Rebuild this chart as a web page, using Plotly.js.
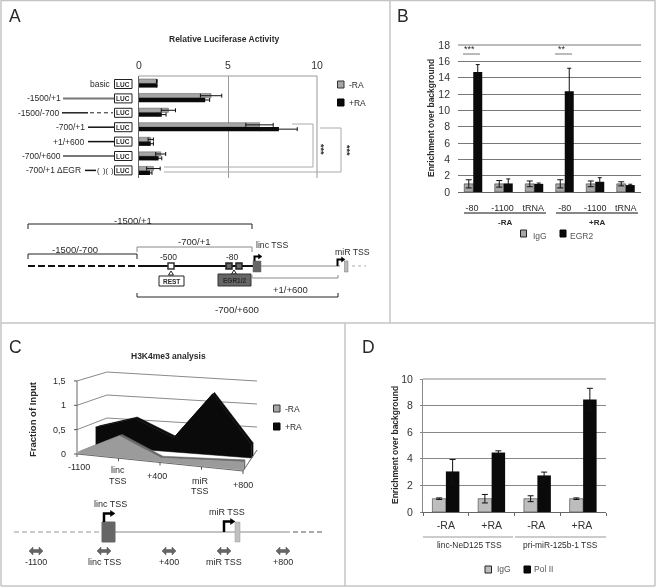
<!DOCTYPE html>
<html><head><meta charset="utf-8">
<script src="https://cdn.plot.ly/plotly-3.0.1.min.js"></script>
<style>html,body{margin:0;padding:0;background:#fff}#c{width:656px;height:587px}.main-svg{will-change:transform}</style></head>
<body><div id="c"></div>
<script>
// ---------- Panel A data
var catsA = ['basic','-1500/+1','-1500/-700','-700/+1','+1/+600','-700/+600','-700/+1 ΔEGR'];
var aMinus = [1.0,4.05,1.65,6.77,0.66,1.22,0.81];
var aMinusErr = [0.02,0.6,0.4,0.77,0.15,0.28,0.38];
var aPlus = [1.0,3.72,1.28,7.86,0.66,1.1,0.62];
var aPlusErr = [0.02,0.25,0.24,1.03,0.15,0.18,0.11];
// ---------- Panel B data
var catsB = ['-80 ','-1100 ','tRNA ','-80','-1100','tRNA'];
var bIgG = [1,1,1,1,1,1];
var bIgGErr = [0.5,0.4,0.35,0.5,0.35,0.25];
var bEGR = [14.7,1.05,1.0,12.35,1.25,0.85];
var bEGRErr = [0.9,0.55,0.1,2.8,0.5,0.1];
// ---------- Panel C data
var catsC = ['-1100','linc TSS','+400','miR TSS','+800'];
var cMinus = [0.03,0.45,0.08,0.13,0.17];
var cPlus = [0.4,0.65,0.3,1.3,0.28];
var cLevels = [0,0.5,1,1.5];
var cLevelLabels = ['0','0,5','1','1,5'];
// ---------- Panel D data
var catsD = ['-RA','+RA','-RA ','+RA '];
var dIgG = [1,1,1,1];
var dIgGErr = [0.06,0.32,0.22,0.06];
var dPol = [3.05,4.47,2.75,8.45];
var dPolErr = [0.9,0.13,0.25,0.85];

var W=656,H=587,FONT='"Liberation Sans",Arial,sans-serif',INK='#2a2a2a';
var GRAY='#a6a6a6',BLK='#0a0a0a',EDGE='#222';
function dx(a,b){return [a/W,b/W];}
function dy(top,bot){return [1-bot/H,1-top/H];}

var annos=[],shapes=[];
function T(x,y,t,s,o){o=o||{};annos.push({xref:'x5',yref:'y5',x:x,y:y,text:o.b?'<b>'+t+'</b>':t,showarrow:false,
  xanchor:o.a||'center',yanchor:'middle',textangle:o.r||0,
  font:{family:FONT,size:s,color:o.c||INK}});}
function L(x0,y0,x1,y1,c,w,d){shapes.push({type:'line',xref:'x5',yref:'y5',x0:x0,y0:y0,x1:x1,y1:y1,line:{color:c||'#111',width:w||1,dash:d||'solid'}});}
function R(x0,y0,x1,y1,f,c,w){shapes.push({type:'rect',xref:'x5',yref:'y5',x0:x0,y0:y0,x1:x1,y1:y1,fillcolor:f,line:{color:c||'#111',width:w===undefined?1:w}});}
function Pth(p,f,c,w){shapes.push({type:'path',xref:'x5',yref:'y5',path:p,fillcolor:f||'rgba(0,0,0,0)',line:{color:c||'#111',width:w===undefined?1:w}});}

// panel frames
var FR='#c4c4c4';
L(1,0.5,655,0.5,FR,1.5);L(1,0,1,586,FR,1.5);L(390,0,390,323,FR,1.5);L(1,323,655,323,FR,1.5);
L(345,323,345,586,FR,1.5);L(1,586,655,586,FR,1.5);L(655,0,655,586,FR,1.5);
T(15,16,'A',17.5);T(403,16,'B',17.5);T(15,347,'C',17.5);T(368,347,'D',17.5);

// --- Panel A furniture
T(224,39,'Relative Luciferase Activity',8.5,{b:1});
L(139,76,317,76,'#999');L(317,76,317,178,'#999');
var aEnds=[113,63,61,87,86,63,83];
catsA.forEach(function(c,i){var y=84+14.4*i;T(aEnds[i],y,c,8.5,{a:'right'});R(114.5,y-4.5,132,y+4.5,'#fff','#222',1);T(123.3,y,'LUC',6.5,{b:1});});
L(63,98.4,114,98.4,'#777',2);L(62,112.8,88,112.8,'#222',1.5);L(90,112.8,113,112.8,'#222',1,'4px,3px');
L(88,127.2,114,127.2,'#111',1.5);L(88,141.6,114,141.6,'#111',1.5);L(63,156,114,156,'#777',2);L(85,170.4,96,170.4,'#111',1.5);
T(98,170,'(',7.5);T(105,170,')(',7.5);T(112,170,')',7.5);
R(337.5,81,344,88,GRAY,'#333');T(347,85,'-RA',8.5,{a:'left'});
R(337.5,99,344,106,BLK,'#000');T(347,103,'+RA',8.5,{a:'left'});
L(292,124,313,124,'#aaa');L(313,124,313,167,'#aaa');L(313,167,164,167,'#aaa');
L(320,128,341,128,'#aaa');L(341,128,341,172,'#aaa');L(341,172,164,172,'#aaa');
T(321,149,'***',9,{r:90,b:1});T(347,150,'***',9,{r:90,b:1});
// promoter diagram
function brD(x0,x1,y,c){L(x0,y,x1,y,c);L(x0,y,x0,y+5,c);L(x1,y,x1,y+5,c);}
function brU(x0,x1,y,c){L(x0,y,x1,y,c);L(x0,y,x0,y-4,c);L(x1,y,x1,y-4,c);}
T(133,220,'-1500/+1',9.5);brD(28,252,224,'#222');
T(194,241,'-700/+1',9.5);brD(137,252,247,'#888');
T(75,249,'-1500/-700',9.5);brD(28,137,254,'#222');
L(28,266,140,266,'#111',2,'7px,3px');L(140,266,253,266,'#111',2);L(253,266,340,266,'#888',1);L(352,266,366,266,'#aaa',1,'dot');
T(168,257,'-500',8.5);T(232,257,'-80',8.5);
R(168,263,174,269,'#fff','#333',1.5);R(226,263,232,269,'#666','#222',1.5);R(236,263,242,269,'#666','#222',1.5);
Pth('M171,271L168.5,275L173.5,275Z','#fff','#222');Pth('M234,270L231.5,274L236.5,274Z','#fff','#222');
R(159,276,184,286,'#fff','#222',1);T(171.5,281,'REST',6.5,{b:1});
R(218,274,251,286,'#666','#333',1);T(234.5,280,'EGR1/2',6.5,{b:1});
T(272,245,'linc TSS',8.7);T(352,252,'miR TSS',8.7);
R(253,261,261,272,'#666','#666',0.5);
Pth('M254.5,261L254.5,256.5L259,256.5','rgba(0,0,0,0)','#000',2);Pth('M258.5,254L262,256.5L258.5,259Z','#000','#000',0.5);
Pth('M337.5,266L337.5,259.5L342,259.5','rgba(0,0,0,0)','#000',2);Pth('M341.5,257L345,259.5L341.5,262Z','#000','#000',0.5);
R(344.5,261,348,272,'#bbb','#777',0.5);
L(252,275,252,278,'#888');L(252,278,338,278,'#888');L(338,275,338,278,'#888');
T(290,289,'+1/+600',9.5);brU(137,338,297,'#222');T(237,309,'-700/+600',9.7);

// --- Panel B furniture
L(458,45,641,45,'#777');
T(431,118,'Enrichment over background',8.5,{b:1,r:-90});
L(464,213,546,213,'#111');L(556,213,638,213,'#111');
T(505,222,'-RA',8,{b:1});T(597,222,'+RA',8,{b:1});
T(469,49,'***',9);L(463,54,480,54,'#777');T(562,49,'**',9);L(555,54,572,54,'#777');
R(520.5,230,526.5,237,GRAY,'#222');T(531,235.5,'IgG',8.5,{a:'left',c:'#555'});
R(560,230,566,237,BLK,'#000');T(568,235.5,'EGR2',8.5,{a:'left',c:'#555'});

// --- Panel C furniture
T(168,356,'H3K4me3 analysis',8.5,{b:1});T(32,419,'Fraction of Input',9.5,{b:1,r:-90});
R(273.5,405,280,412,GRAY,'#333');T(283,408.5,'-RA',8.5,{a:'left'});
R(273.5,423,280,430,BLK,'#000');T(283,426.5,'+RA',8.5,{a:'left'});
L(14,532,102,532,'#999',1,'5px,3px');L(102,532,290,532,'#888',1);L(293,532,323,532,'#555',1,'5px,3px');
shapes.push({type:'rect',xref:'x5',yref:'y5',x0:102,y0:522,x1:115,y1:542,fillcolor:'#666',line:{color:'#666',width:1}});
R(235,522,240,542,'#c0c0c0','#999',0.5);
Pth('M104,522L104,513.5L111,513.5','rgba(0,0,0,0)','#000',2.5);Pth('M110.5,510.5L115,513.5L110.5,516.5Z','#000','#000',0.5);
Pth('M224,532L224,521.5L231,521.5','rgba(0,0,0,0)','#000',2.5);Pth('M230.5,518.5L235,521.5L230.5,524.5Z','#000','#000',0.5);
T(110,504,'linc TSS',9);T(227,512,'miR TSS',9);
var arrX=[36,104,169,224,283];
catsC.forEach(function(c,i){var a=arrX[i];
  Pth('M'+(a-7)+',551L'+(a-3)+',547L'+(a-3)+',549.5L'+(a+3)+',549.5L'+(a+3)+',547L'+(a+7)+',551L'+(a+3)+',555L'+(a+3)+',552.5L'+(a-3)+',552.5L'+(a-3)+',555Z','#666','#555',0.5);
  T(a,562,c,9);});

// --- Panel D furniture
L(423,379,606,379,'#888');
T(395,445,'Enrichment over background',8.5,{b:1,r:-90});
L(423,537,513,537,'#999');L(515,537,606,537,'#999');
T(469,544.5,'linc-NeD125 TSS',8.4);T(560,544.5,'pri-miR-125b-1 TSS',8.4);
R(485,566,491.5,573,'#bdbdbd','#222');T(495,569,'IgG',8.5,{a:'left',c:'#555'});
R(524,566,530.5,573,BLK,'#000');T(532,569,'Pol II',8.5,{a:'left',c:'#555'});

// --- Panel C projection (oblique walls computed from the values)
function P(i,d,v){var t=i/4,fx=77+166*t,fy=454+17*t,bx=107+150*t,by=441+9*t;
  return [fx+d*(bx-fx),fy+d*(by-fy)-v*(48.7-2.7*d)];}
var traces=[];
function poly(pts,fill,lc){traces.push({type:'scatter',mode:'lines',xaxis:'x5',yaxis:'y5',hoverinfo:'skip',showlegend:false,
  x:pts.map(function(p){return p[0];}),y:pts.map(function(p){return p[1];}),
  fill:fill?'toself':'none',fillcolor:fill||undefined,line:{color:lc||fill,width:lc?1:0.5}});}
cLevels.forEach(function(v,k){
  if(k>0){poly([P(0,0,v),P(0,1,v),P(4,1,v)],null,'#8a8a8a');}
  var p=P(0,0,v);L(p[0]-3,p[1],p[0],p[1],'#555');T(p[0]-9,p[1],cLevelLabels[k],9,{a:'right'});
});
function ribbon(vals,d0,d1,faceC,topC){
  var top=[],back=[],base=[];
  vals.forEach(function(v,i){top.push(P(i,d0,v));back.push(P(i,d1,v));base.push(P(i,d0,0));});
  poly(top.concat(back.slice().reverse()),topC);
  poly([P(4,d0,vals[4]),P(4,d1,vals[4]),P(4,d1,0),P(4,d0,0)],topC);
  poly(top.concat(base.slice().reverse()),faceC);
}
ribbon(cPlus,0.62,0.72,BLK,BLK);
ribbon(cMinus,0.04,0.14,'#9b9b9b','#6a6a6a');
poly([P(0,0,1.5),P(0,0,0),P(4,0,0),P(4,1,0)],null,'#666');poly([P(0,0,0),P(0,1,0)],null,'#999');
var cLabPos=[[79,467],[118,470,481],[157,476],[200,481,491],[243,485]];
catsC.forEach(function(c,i){var q=P(i,0,0);L(q[0],q[1],q[0],q[1]+3,'#555');
  var lp=cLabPos[i],w=c.split(' ');
  if(w.length>1){T(lp[0],lp[1],w[0],9);T(lp[0],lp[2],w[1],9);}else{T(lp[0],lp[1],c,9);}
});

// --- Bars
function eb(a,c,w){return {type:'data',array:a,visible:true,color:c,thickness:1,width:w};}
traces.push({type:'bar',orientation:'h',name:'-RA',y:catsA,x:aMinus,xaxis:'x',yaxis:'y',marker:{color:GRAY,line:{color:'#555',width:0.5}},error_x:eb(aMinusErr,'#111',2)});
traces.push({type:'bar',orientation:'h',name:'+RA',y:catsA,x:aPlus,xaxis:'x',yaxis:'y',marker:{color:BLK},error_x:eb(aPlusErr,'#111',2)});
traces.push({type:'bar',name:'IgG',x:catsB,y:bIgG,xaxis:'x2',yaxis:'y2',marker:{color:GRAY,line:{color:EDGE,width:0.5}},error_y:eb(bIgGErr,'#111',3)});
traces.push({type:'bar',name:'EGR2',x:catsB,y:bEGR,xaxis:'x2',yaxis:'y2',marker:{color:BLK},error_y:eb(bEGRErr,'#111',2)});
traces.push({type:'bar',name:'IgG',x:catsD,y:dIgG,xaxis:'x3',yaxis:'y3',marker:{color:'#bdbdbd',line:{color:EDGE,width:0.5}},error_y:eb(dIgGErr,'#111',3)});
traces.push({type:'bar',name:'Pol II',x:catsD,y:dPol,xaxis:'x3',yaxis:'y3',marker:{color:BLK},error_y:eb(dPolErr,'#111',3)});

var tf={family:FONT,size:10.5,color:'#333'};
var layout={width:W,height:H,margin:{l:0,r:0,t:0,b:0},paper_bgcolor:'#fff',plot_bgcolor:'rgba(0,0,0,0)',showlegend:false,
 barmode:'group',
 xaxis:{domain:dx(139,317),range:[0,10],side:'top',anchor:'y',tickvals:[0,5,10],showgrid:true,gridcolor:'#999',gridwidth:1,zeroline:false,
   showline:false,ticks:'',tickfont:tf,ticklabelstandoff:4,fixedrange:true},
 yaxis:{domain:dy(76,178),range:[6.5,-0.5],type:'category',anchor:'x',showticklabels:false,ticks:'',showgrid:false,showline:true,linecolor:'#666',zeroline:false,fixedrange:true},
 xaxis2:{domain:dx(458,641),anchor:'y2',type:'category',ticks:'',tickfont:{family:FONT,size:9,color:INK},ticklabelstandoff:7,showline:true,linecolor:'#666',fixedrange:true},
 yaxis2:{domain:dy(45,192),range:[0,18],anchor:'x2',dtick:2,gridcolor:'#777',tickfont:tf,ticklabelstandoff:7,zeroline:false,showline:false,ticks:'',fixedrange:true},
 xaxis3:{domain:dx(423,606),anchor:'y3',type:'category',ticks:'outside',ticklen:3,tickcolor:'#666',tickson:'boundaries',tickfont:tf,ticklabelstandoff:3,showline:true,linecolor:'#666',fixedrange:true},
 yaxis3:{domain:dy(379,512),range:[0,10],anchor:'x3',dtick:2,gridcolor:'#888',tickfont:tf,ticklabelstandoff:5,zeroline:false,showline:true,linecolor:'#888',ticks:'outside',ticklen:2,tickcolor:'#888',fixedrange:true},
 xaxis5:{domain:[0,1],range:[0,W],anchor:'y5',visible:false,fixedrange:true},
 yaxis5:{domain:[0,1],range:[H,0],anchor:'x5',visible:false,fixedrange:true},
 bargap:0.41,bargroupgap:0,
 annotations:annos,shapes:shapes};
Plotly.newPlot('c',traces,layout,{displayModeBar:false,staticPlot:true});
</script></body></html>
